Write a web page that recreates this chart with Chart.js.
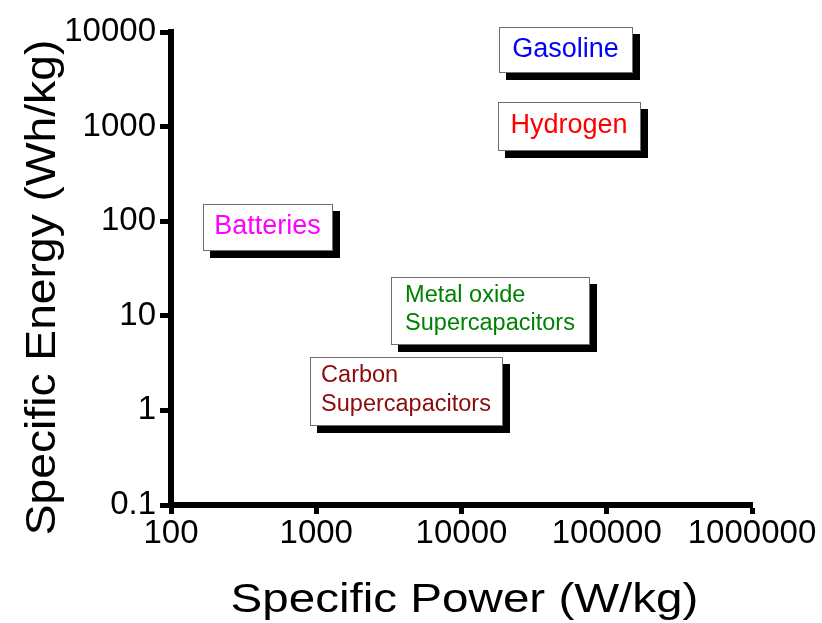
<!DOCTYPE html>
<html>
<head>
<meta charset="utf-8">
<title>Specific Energy vs Specific Power</title>
<script src="https://cdn.jsdelivr.net/npm/chart.js@4.4.1/dist/chart.umd.min.js"></script>
<style>
  html, body { margin: 0; padding: 0; background: #ffffff; }
  canvas { display: block; }
</style>
</head>
<body>
<canvas id="ragone" width="822" height="623"></canvas>
<script>
// Decade ticks on both log axes
const powerTicks = [100, 1000, 10000, 100000, 1000000];
const energyTicks = [0.1, 1, 10, 100, 1000, 10000];

// Storage technologies and the ranges their label boxes span (W/kg, Wh/kg)
const technologies = ['Gasoline', 'Hydrogen', 'Batteries', 'Metal oxide\nSupercapacitors', 'Carbon\nSupercapacitors'];
const powerMin  = [18000, 17700, 166, 3290, 910];
const powerMax  = [150000, 169000, 1290, 75200, 18900];
const energyMin = [3800, 570, 50, 5.0, 0.70];
const energyMax = [11300, 1820, 152, 25.7, 3.66];

const FONT = "'Liberation Sans', Arial, Helvetica, sans-serif";
const textColors = ['#0000ff', '#ff0000', '#ff00ff', '#008000', '#8b0a0a'];

// Labelled boxes with a drop shadow, placed through the chart's scales
const techBoxes = {
  id: 'techBoxes',
  afterDatasetsDraw(chart) {
    const { ctx, scales: { x, y } } = chart;
    technologies.forEach((name, i) => {
      const l = Math.round(x.getPixelForValue(powerMin[i]));
      const r = Math.round(x.getPixelForValue(powerMax[i]));
      const t = Math.round(y.getPixelForValue(energyMax[i]));
      const b = Math.round(y.getPixelForValue(energyMin[i]));
      const w = r - l, h = b - t;
      ctx.save();
      ctx.fillStyle = '#000000';
      ctx.fillRect(l + 7, t + 7, w + 1, h + 1);
      ctx.fillStyle = '#ffffff';
      ctx.fillRect(l, t, w, h);
      ctx.strokeStyle = '#6e6e6e';
      ctx.lineWidth = 1;
      ctx.strokeRect(l + 0.5, t + 0.5, w, h);

      const lines = name.split('\n');
      const cx = (l + r) / 2, cy = (t + b) / 2;
      ctx.fillStyle = textColors[i];
      ctx.textBaseline = 'middle';
      if (lines.length === 1) {
        ctx.font = '27px ' + FONT;
        ctx.textAlign = 'center';
        ctx.fillText(lines[0], cx, cy);
      } else {
        ctx.font = '23.5px ' + FONT;
        ctx.textAlign = 'left';
        const blockW = Math.max(...lines.map(s => ctx.measureText(s).width));
        const x0 = cx - blockW / 2;
        const lh = 28.5;
        lines.forEach((s, k) => {
          ctx.fillText(s, x0, cy - 1 + (k - (lines.length - 1) / 2) * lh);
        });
      }
      ctx.restore();
    });
  }
};

// Axis titles, set in a slightly widened face
const axisTitles = {
  id: 'axisTitles',
  afterDraw(chart) {
    const { ctx, chartArea } = chart;
    ctx.save();
    ctx.fillStyle = '#000000';
    ctx.font = '41px ' + FONT;
    ctx.textAlign = 'center';
    ctx.textBaseline = 'alphabetic';

    ctx.save();
    ctx.translate((chartArea.left + chartArea.right) / 2 + 3, chart.height - 11);
    ctx.scale(1.16, 1);
    ctx.fillText('Specific Power (W/kg)', 0, 0);
    ctx.restore();

    ctx.save();
    ctx.font = '42px ' + FONT;
    ctx.translate(55, (chartArea.top + chartArea.bottom) / 2 + 19);
    ctx.rotate(-Math.PI / 2);
    ctx.scale(1.1, 1);
    ctx.fillText('Specific Energy (Wh/kg)', 0, 0);
    ctx.restore();

    ctx.restore();
  }
};

const axisCommon = (ticks, tickLength, padding) => ({
  type: 'logarithmic',
  min: ticks[0],
  max: ticks[ticks.length - 1],
  afterBuildTicks: scale => { scale.ticks = ticks.map(v => ({ value: v })); },
  grid: {
    display: true,
    drawOnChartArea: false,
    drawTicks: true,
    tickLength: tickLength,
    tickWidth: 5,
    tickColor: '#000000'
  },
  border: { display: true, color: '#000000', width: 6 },
  ticks: {
    color: '#000000',
    font: { family: FONT, size: 33 },
    padding: padding,
    autoSkip: false,
    maxRotation: 0,
    callback: v => String(v)
  }
});

new Chart(document.getElementById('ragone'), {
  type: 'scatter',
  data: {
    datasets: [{
      data: technologies.map((_, i) => ({
        x: Math.sqrt(powerMin[i] * powerMax[i]),
        y: Math.sqrt(energyMin[i] * energyMax[i])
      })),
      pointRadius: 0,
      showLine: false
    }]
  },
  options: {
    responsive: false,
    animation: false,
    devicePixelRatio: 1,
    layout: { padding: { top: 32, right: 70, left: 0, bottom: 0 } },
    plugins: {
      legend: { display: false },
      tooltip: { enabled: false },
      title: { display: false }
    },
    scales: {
      x: Object.assign(axisCommon(powerTicks, 9, 0), {
        position: 'bottom',
        afterFit: scale => { scale.height = 118; }
      }),
      y: Object.assign(axisCommon(energyTicks, 11, 4), {
        position: 'left',
        afterFit: scale => { scale.width = 171; }
      })
    }
  },
  plugins: [techBoxes, axisTitles]
});
</script>
</body>
</html>
